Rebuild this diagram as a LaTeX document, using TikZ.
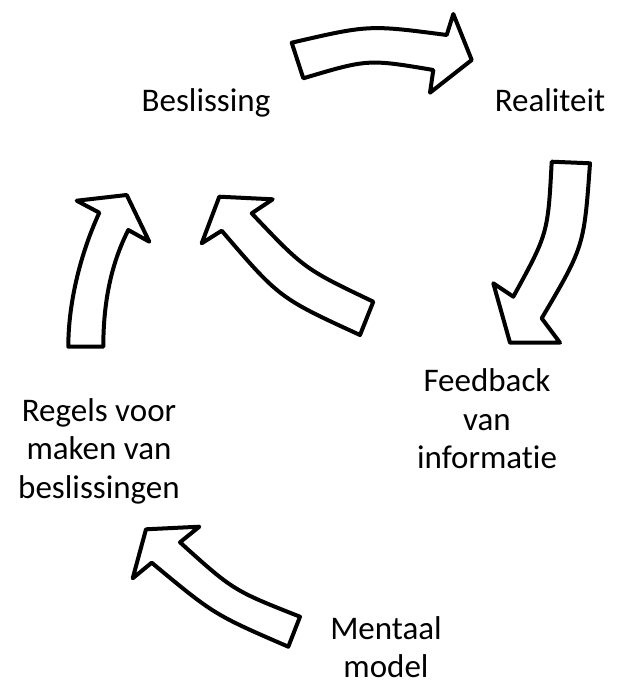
\documentclass[tikz,border=0pt]{standalone}
\usepackage{fontspec}
\setmainfont{Carlito}[Ligatures=NoCommon]
\begin{document}
\begin{tikzpicture}[x=1pt,y=-1pt,
  bigarrow/.style={draw=black,fill=white,line width=4pt,line join=round},
  lbl/.style={align=center,inner sep=0pt,font=\fontsize{33}{38.5}\selectfont}]
\path[use as bounding box] (0,0) rectangle (623,682);
% top arrow
\path[bigarrow] (291.7,42.7) .. controls (369,24.8) .. (446.7,35) -- (453.3,14) -- (471.7,60)
  -- (430,92.7) -- (433.3,70) .. controls (368,59) .. (303.3,78.3) -- cycle;
% right arrow
\path[bigarrow] (551.7,161.7) -- (590,163.3) .. controls (584,246.5) .. (541.7,318.3)
  -- (560,342.7) -- (510,342.7) -- (493.3,283.3) -- (513.3,296.7)
  .. controls (547.9,233.6) .. (551.7,161.7) -- cycle;
% left arrow
\path[bigarrow] (68.3,346.7) -- (103.3,346.7) .. controls (103.3,300) and (112,262) .. (128.3,230)
  -- (149.3,241.7) -- (126.7,195) -- (76.7,200.7) -- (99.3,212.7)
  .. controls (82,250) and (68.3,300) .. (68.3,346.7) -- cycle;
% middle arrow
\path[bigarrow] (373.3,301.7) -- (360,335) .. controls (279.4,298) .. (221.7,230.7)
  -- (201.7,243.3) -- (219.3,196.7) -- (272.7,199.3) -- (251.7,213.3)
  .. controls (304.3,268.8) .. (373.3,301.7) -- cycle;
% bottom arrow
\path[bigarrow] (300,616.7) -- (288.3,646.7) .. controls (214,614.5) .. (151.7,562.7)
  -- (132.7,578.3) -- (146,529.3) -- (199.3,526.7) -- (180,542.3)
  .. controls (233.3,590.4) .. (300,616.7) -- cycle;
% labels
\node[lbl,anchor=base] (besl) at (206,111) {Beslissing};
\node[lbl,anchor=base] (real) at (550,111) {Realiteit};
\node[lbl] (feed) at (487,419) {Feedback\\van\\informatie};
\node[lbl] (regels) at (99,451) {Regels voor\\maken van\\beslissingen};
\node[lbl] (mentaal) at (386,647) {Mentaal\\model};
\end{tikzpicture}
\end{document}
